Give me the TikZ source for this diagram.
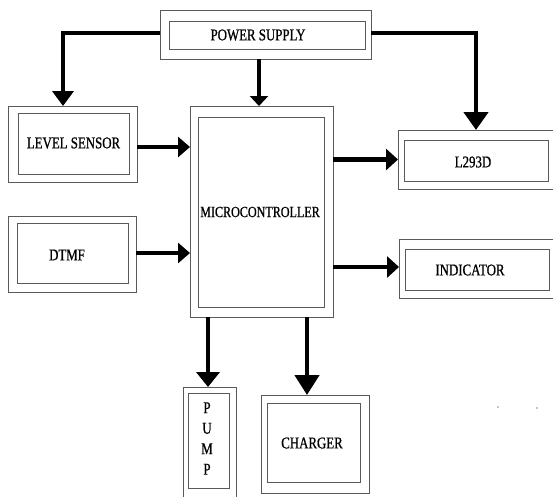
\documentclass[tikz,border=0pt]{standalone}
\usepackage{fontspec}
\setmainfont[FakeStretch=0.78,FakeBold=0.8]{Liberation Serif}
\usetikzlibrary{arrows.meta}
\begin{document}
\begin{tikzpicture}[x=1pt,y=-1pt,
  outerbox/.style={draw=black!65, line width=1pt, inner sep=0pt, outer sep=0pt, fill=white},
  innerbox/.style={draw=black!65, line width=1pt, inner sep=0pt, outer sep=0pt},
  lbl/.style={font=\fontsize{16.5}{18}\selectfont, inner sep=0pt, text=black},
  conn/.style={line width=4.5pt, draw=black, line join=miter},
  headsz/.style n args={2}{-{Triangle[width=#1,length=#2]}}
]
\useasboundingbox (0,0) rectangle (553,496);
% Power supply
\node[outerbox, minimum width=211pt, minimum height=49pt] (ps) at (265.5,34.5) {};
\node[innerbox, minimum width=196pt, minimum height=28pt] (psi) at (267,35) {};
\node[lbl] (pst) at (258,35) {POWER SUPPLY};
% Level sensor
\node[outerbox, minimum width=129pt, minimum height=76pt] (ls) at (72.5,144) {};
\node[innerbox, minimum width=111pt, minimum height=61pt] (lsi) at (73.5,143.5) {};
\node[lbl] (lst) at (73.5,143) {LEVEL SENSOR};
% DTMF
\node[outerbox, minimum width=128pt, minimum height=76pt] (dt) at (72,254) {};
\node[innerbox, minimum width=111pt, minimum height=60pt] (dti) at (72.5,253) {};
\node[lbl] (dtt) at (67,255) {DTMF};
% Microcontroller
\node[outerbox, minimum width=143pt, minimum height=211pt] (mc) at (261.5,211.5) {};
\node[innerbox, minimum width=126pt, minimum height=190pt] (mci) at (261,212) {};
\node[lbl, font=\fontsize{15.5}{17}\selectfont] (mct) at (260,212) {MICROCONTROLLER};
% L293D
\node[outerbox, minimum width=155pt, minimum height=59pt] (ld) at (475.5,159.5) {};
\node[innerbox, minimum width=144pt, minimum height=41pt] (ldi) at (476,160.5) {};
\node[lbl] (ldt) at (473,162) {L293D};
% Indicator
\node[outerbox, minimum width=154pt, minimum height=59pt] (ind) at (476,268.5) {};
\node[innerbox, minimum width=144pt, minimum height=41pt] (indi) at (477,269.5) {};
\node[lbl] (indt) at (470,270) {INDICATOR};
% Pump
\node[outerbox, minimum width=53pt, minimum height=110pt] (pu) at (209.5,442) {};
\node[innerbox, minimum width=41pt, minimum height=95pt] (pui) at (208.5,440.5) {};
\node[lbl, align=center, font=\fontsize{16.5}{20.5}\selectfont] (put) at (207,438.5) {P\\U\\M\\P};
% Charger
\node[outerbox, minimum width=108pt, minimum height=98pt] (ch) at (315,444) {};
\node[innerbox, minimum width=93pt, minimum height=79pt] (chi) at (313.5,442.5) {};
\node[lbl] (cht) at (312,443) {CHARGER};
% stray dots
\fill[black!45] (498,407) circle (0.8);
\fill[black!45] (537,408) circle (0.8);
% connectors
\draw[conn, headsz={21pt}{15pt}] ([yshift=1.5pt]ps.west) -| ([xshift=-9.5pt]ls.north);
\draw[conn, headsz={18pt}{10pt}] ([xshift=-2.5pt]mc.north |- ps.south) -- ([xshift=-2.5pt]mc.north);
\draw[conn, headsz={24pt}{18pt}] ([yshift=1.5pt]ps.east) -| ([xshift=0.5pt]ld.north);
\draw[conn, headsz={20pt}{12pt}] ([yshift=-3pt]ls.east) -- ([yshift=-3pt]ls.east -| mc.west);
\draw[conn, headsz={20pt}{12pt}] ([yshift=1pt]dt.east) -- ([yshift=1pt]dt.east -| mc.west);
\draw[conn, headsz={21pt}{12pt}] (ld.west -| mc.east) -- (ld.west);
\draw[conn, headsz={21pt}{12pt}] ([yshift=1.5pt]ind.west -| mc.east) -- ([yshift=1.5pt]ind.west);
\draw[conn, headsz={23pt}{15pt}] ([xshift=-1.5pt]pu.north |- mc.south) -- ([xshift=-1.5pt]pu.north);
\draw[conn, headsz={24pt}{20pt}] ([xshift=-8pt]ch.north |- mc.south) -- ([xshift=-8pt]ch.north);
\end{tikzpicture}
\end{document}
